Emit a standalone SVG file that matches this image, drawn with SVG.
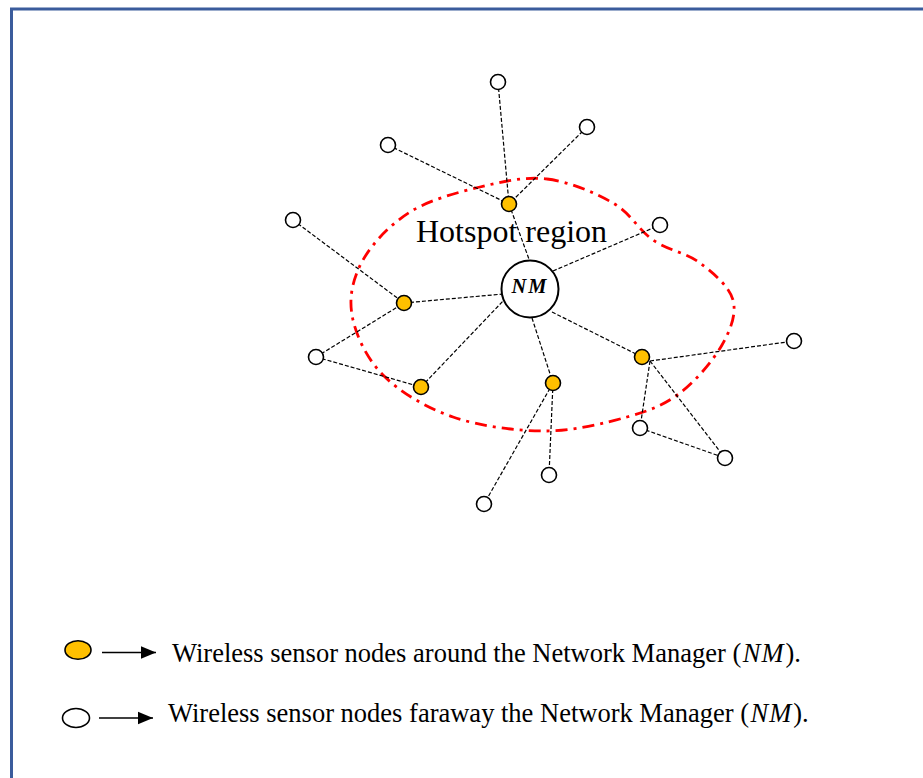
<svg xmlns="http://www.w3.org/2000/svg" width="923" height="778" viewBox="0 0 923 778">
  <defs>
    <style>
      .frame { fill: none; stroke: #3b5c9c; stroke-width: 3; }
      .link { stroke: #000; stroke-width: 1.2; stroke-dasharray: 4 2; fill: none; }
      .near { fill: #ffc000; stroke: #000; stroke-width: 1.6; }
      .far { fill: #fff; stroke: #000; stroke-width: 1.6; }
      .hub { fill: #fff; stroke: #000; stroke-width: 2; }
      .region { fill: none; stroke: #ff0000; stroke-width: 2.8; stroke-dasharray: 12 6 3 6; }
      .serif { font-family: "Liberation Serif", "Times New Roman", serif; fill: #000; }
      .arrow { stroke: #000; stroke-width: 1.6; }
    </style>
    <marker id="tip" markerWidth="16" markerHeight="14" refX="15" refY="7" orient="auto" markerUnits="userSpaceOnUse">
      <polygon points="0,0.8 15,7 0,13.2" fill="#000"/>
    </marker>
  </defs>

  <rect width="923" height="778" fill="#fff"/>
  <!-- page frame (open on right and bottom) -->
  <path class="frame" d="M11.5,778 V9 H923"/>

  <!-- hotspot boundary -->
  <path class="region" d="M547,179 C569.2,181.7 595.3,192.8 613,203 C630.7,213.2 638.5,230 653,240 C667.5,250 686.7,253 700,263 C713.3,273 729.3,286.3 733,300 C736.7,313.7 730.8,329.5 722,345 C713.2,360.5 695.8,381 680,393 C664.2,405 649.5,410.7 627,417 C604.5,423.3 574,431 545,431 C516,431 480,426.3 453,417 C426,407.7 399.8,392 383,375 C366.2,358 355.3,334.2 352,315 C348.7,295.8 353.3,277.2 363,260 C372.7,242.8 390.5,224.2 410,212 C429.5,199.8 457.2,192.5 480,187 C502.8,181.5 524.8,176.3 547,179 Z"/>

  <text class="serif" x="416" y="242" font-size="32">Hotspot region</text>

  <!-- links -->
  <g id="links">
    <line class="link" x1="498" y1="82" x2="509" y2="204"/>
    <line class="link" x1="587" y1="127" x2="509" y2="204"/>
    <line class="link" x1="388" y1="145" x2="509" y2="204"/>
    <line class="link" x1="509" y1="204" x2="530" y2="262"/>
    <line class="link" x1="293" y1="220" x2="404" y2="303"/>
    <line class="link" x1="404" y1="303" x2="503" y2="294"/>
    <line class="link" x1="316" y1="357" x2="404" y2="303"/>
    <line class="link" x1="316" y1="357" x2="421" y2="387"/>
    <line class="link" x1="421" y1="387" x2="504" y2="300"/>
    <line class="link" x1="553" y1="271" x2="660" y2="225"/>
    <line class="link" x1="532" y1="318" x2="553" y2="383"/>
    <line class="link" x1="553" y1="383" x2="549" y2="475"/>
    <line class="link" x1="553" y1="383" x2="484" y2="504"/>
    <line class="link" x1="552" y1="312" x2="642" y2="357"/>
    <line class="link" x1="650" y1="361" x2="794" y2="341"/>
    <line class="link" x1="650" y1="361" x2="640" y2="428"/>
    <line class="link" x1="650" y1="361" x2="725" y2="458"/>
    <line class="link" x1="640" y1="428" x2="725" y2="458"/>
  </g>

  <!-- network manager -->
  <g id="nm">
    <circle class="hub" cx="530" cy="289" r="28.5"/>
    <text class="serif" x="530" y="293" font-size="20.5" font-weight="bold" font-style="italic" text-anchor="middle" letter-spacing="2">NM</text>
  </g>

  <!-- sensor nodes inside the hotspot -->
  <g id="near-nodes">
    <circle class="near" cx="509" cy="204" r="7.5"/>
    <circle class="near" cx="404" cy="303" r="7.5"/>
    <circle class="near" cx="421" cy="387" r="7.5"/>
    <circle class="near" cx="553" cy="383" r="7.5"/>
    <circle class="near" cx="642" cy="357" r="7.5"/>
  </g>

  <!-- sensor nodes far from the manager -->
  <g id="far-nodes">
    <circle class="far" cx="498" cy="82" r="7.5"/>
    <circle class="far" cx="587" cy="127" r="7.5"/>
    <circle class="far" cx="388" cy="145" r="7.5"/>
    <circle class="far" cx="293" cy="220" r="7.5"/>
    <circle class="far" cx="660" cy="225" r="7.5"/>
    <circle class="far" cx="316" cy="357" r="7.5"/>
    <circle class="far" cx="794" cy="341" r="7.5"/>
    <circle class="far" cx="640" cy="428" r="7.5"/>
    <circle class="far" cx="725" cy="458" r="7.5"/>
    <circle class="far" cx="549" cy="475" r="7.5"/>
    <circle class="far" cx="484" cy="504" r="7.5"/>
  </g>

  <!-- legend -->
  <g id="legend-near">
    <ellipse class="near" cx="78" cy="650" rx="13" ry="9.3" stroke-width="1.3"/>
    <line class="arrow" x1="102" y1="652.5" x2="156" y2="652.5" marker-end="url(#tip)"/>
    <text class="serif" x="172" y="662" font-size="26.5">Wireless sensor nodes around the Network Manager (<tspan font-style="italic" dx="1.5" letter-spacing="1">NM</tspan><tspan dx="1">).</tspan></text>
  </g>
  <g id="legend-far">
    <ellipse class="far" cx="76" cy="718" rx="13.5" ry="9.5" stroke-width="1.3"/>
    <line class="arrow" x1="99" y1="718" x2="153" y2="718" marker-end="url(#tip)"/>
    <text class="serif" x="168" y="722" font-size="26.5">Wireless sensor nodes faraway the Network Manager (<tspan font-style="italic" dx="1.5" letter-spacing="1">NM</tspan><tspan dx="1">).</tspan></text>
  </g>
</svg>
